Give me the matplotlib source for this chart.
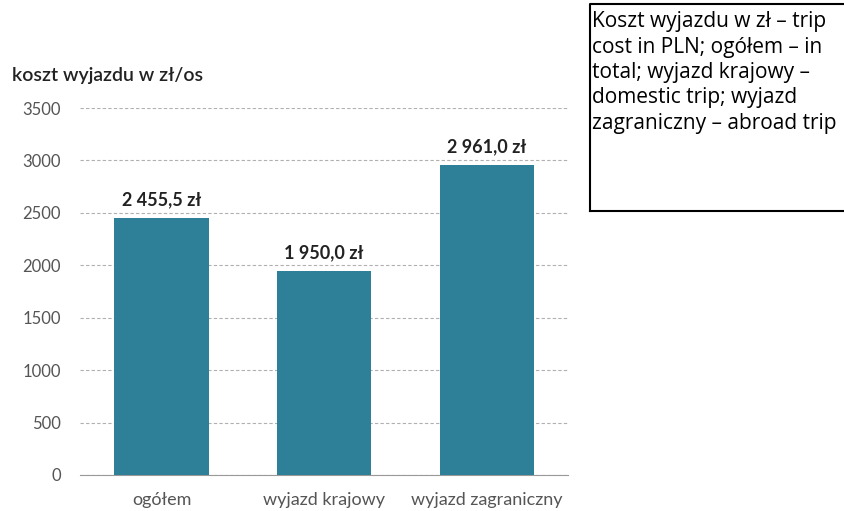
import matplotlib.pyplot as plt
from matplotlib.patches import Rectangle

categories = ['ogółem', 'wyjazd krajowy', 'wyjazd zagraniczny']
values = [2455.5, 1950.0, 2961.0]
value_labels = ['2 455,5 zł', '1 950,0 zł', '2 961,0 zł']
yticks = [0, 500, 1000, 1500, 2000, 2500, 3000, 3500]
note = ('Koszt wyjazdu w zł – trip\ncost in PLN; ogółem – in\n'
        'total; wyjazd krajowy –\ndomestic trip; wyjazd\n'
        'zagraniczny – abroad trip')

plt.rcParams['font.family'] = ['Lato', 'DejaVu Sans']

fig = plt.figure(figsize=(8.44, 5.11), dpi=100)
ax = fig.add_axes([0.095, 0.0705, 0.578, 0.718])

x = range(len(categories))
ax.bar(x, values, width=0.58, color='#2E8098', zorder=3)
for i, (v, lab) in enumerate(zip(values, value_labels)):
    ax.text(i, v + 90, lab, ha='center', va='bottom', fontsize=13,
            fontweight='bold', color='#222222')

ax.set_xlim(-0.5, 2.5)
ax.set_ylim(0, 3500)
ax.set_yticks(yticks)
ax.set_xticks(list(x))
ax.set_xticklabels(categories)
ax.yaxis.grid(True, linestyle=(0, (3, 2)), color='#b0b0b0', linewidth=0.8, zorder=0)
for s in ['left', 'right', 'top']:
    ax.spines[s].set_visible(False)
ax.spines['bottom'].set_color('#999999')
ax.tick_params(axis='both', length=0, colors='#555555')
ax.tick_params(axis='y', pad=14, labelsize=12)
ax.tick_params(axis='x', pad=12, labelsize=13)

fig.text(0.014, 0.853, 'koszt wyjazdu w zł/os', fontsize=14, color='#222222',
         ha='left', va='center', fontweight='semibold')

# frame drawn as explicit lines so the top edge lands inside the canvas
bx0, bx1, by0, by1 = 0.699, 1.01, 0.587, 0.992
fig.add_artist(plt.Line2D([bx0, bx1, bx1, bx0, bx0], [by0, by0, by1, by1, by0],
                          transform=fig.transFigure, color='black', linewidth=1.5))
fig.text(0.702, 0.978, note, fontsize=15, ha='left', va='top', color='black',
         linespacing=1.27, family=['Open Sans', 'DejaVu Sans'])

fig.savefig('out.png', dpi=100)
